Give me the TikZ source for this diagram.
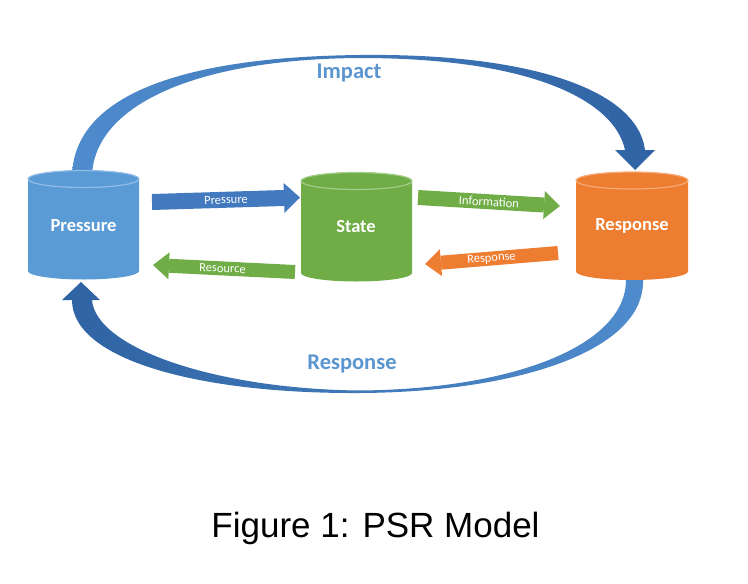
\documentclass[tikz,border=0pt]{standalone}
\usepackage{fontspec}
\setmainfont{Carlito}
\newfontfamily\capfont{Liberation Sans}
\usetikzlibrary{arrows.meta}
\definecolor{pblue}{HTML}{5B9BD5}
\definecolor{pblueL}{HTML}{93BDE6}
\definecolor{sgreen}{HTML}{70AD47}
\definecolor{sgreenL}{HTML}{A3CE89}
\definecolor{rorange}{HTML}{ED7D31}
\definecolor{rorangeL}{HTML}{F6AA77}
\definecolor{arrblue}{HTML}{4379BF}
\definecolor{arcL}{HTML}{4F8CCD}
\definecolor{arcD}{HTML}{2F63A3}
\definecolor{lbl}{HTML}{5B95D0}
\newcommand\drawcyl[7]{%
  \fill[#6] (#1-#4,#2) -- (#1-#4,#3) arc[start angle=180,end angle=0,x radius=#4,y radius=#5]
     -- (#1+#4,#2) arc[start angle=0,end angle=-180,x radius=#4,y radius=#5] -- cycle;
  \filldraw[fill=#6,draw=#7,line width=1.2pt] (#1,#2) ellipse[x radius=#4,y radius=#5];}
\begin{document}
\begin{tikzpicture}[x=1pt,y=-1pt,
  cyllabel/.style={text=white,font=\fontsize{18.5}{20}\selectfont\bfseries,minimum width=111pt,minimum height=110pt,inner sep=0pt},
  blockarrow/.style 2 args={line width=#1,-{Triangle[line width=0pt,length=16pt,width=#2]}},
  arrlabel/.style={text=white,font=\fontsize{12.5}{14}\selectfont,sloped,inner sep=0pt},
  arclabel/.style={text=lbl,font=\fontsize{22.5}{26}\selectfont\bfseries,inner sep=0pt}]
\useasboundingbox (0,0) rectangle (748,584);
% curved arrows
\shade[left color=arcL,right color=arcD]
  (72,178) .. controls (72,100) and (170,57) .. (360,55)
  .. controls (525,53) and (637,88) .. (645,150)
  -- (655,150) -- (635,170) -- (615,150) -- (625,150)
  .. controls (615,102) and (535,58) .. (360,58)
  .. controls (190,59) and (92,108) .. (92,178) -- cycle;
\shade[left color=arcD,right color=arcL]
  (643,272) -- (643,280) .. controls (645,350) and (520,392) .. (360,393)
  .. controls (200,394) and (72,360) .. (72,300)
  -- (62,300) -- (81,282) -- (100,300) -- (92,300)
  .. controls (96,348) and (215,389) .. (360,390.5)
  .. controls (515,389) and (626,345) .. (626,280) -- (626,272) -- cycle;
\node[arclabel] (imp) at (349,73) {Impact};
\node[arclabel] (resp) at (352,364) {Response};
% cylinders
\drawcyl{83.5}{179}{271}{55.5}{8.5}{pblue}{pblueL}
\drawcyl{356.5}{181}{273}{55.5}{8.5}{sgreen}{sgreenL}
\drawcyl{632}{180.5}{271.5}{56}{8.5}{rorange}{rorangeL}
\node[cyllabel] (P) at (83.5,226) {Pressure};
\node[cyllabel] (S) at (356,226) {State};
\node[cyllabel] (R) at (632,226) {Response};
% block arrows
\coordinate (pa0) at (152,202);
\coordinate (pa1) at (300,197.5);
\coordinate (ia0) at (418,197.5);
\coordinate (ia1) at (560,206);
\coordinate (ra0) at (558,253);
\coordinate (ra1) at (425,264);
\coordinate (sa0) at (295,272);
\coordinate (sa1) at (153,265);
\draw[arrblue,blockarrow={16pt}{30pt}] (pa0) -- (pa1) node[arrlabel,midway] {Pressure};
\draw[sgreen,blockarrow={15pt}{28pt}] (ia0) -- (ia1) node[arrlabel,midway] {Information};
\draw[rorange,blockarrow={14pt}{27pt}] (ra0) -- (ra1) node[arrlabel,midway] {Response};
\draw[sgreen,blockarrow={14pt}{27pt}] (sa0) -- (sa1) node[arrlabel,pos=0.51] {Resource};
% caption
\node[anchor=base,font=\capfont\fontsize{35}{40}\selectfont,inner sep=0pt] (cap) at (375.5,537) {Figure 1: PSR Model};
\end{tikzpicture}
\end{document}
